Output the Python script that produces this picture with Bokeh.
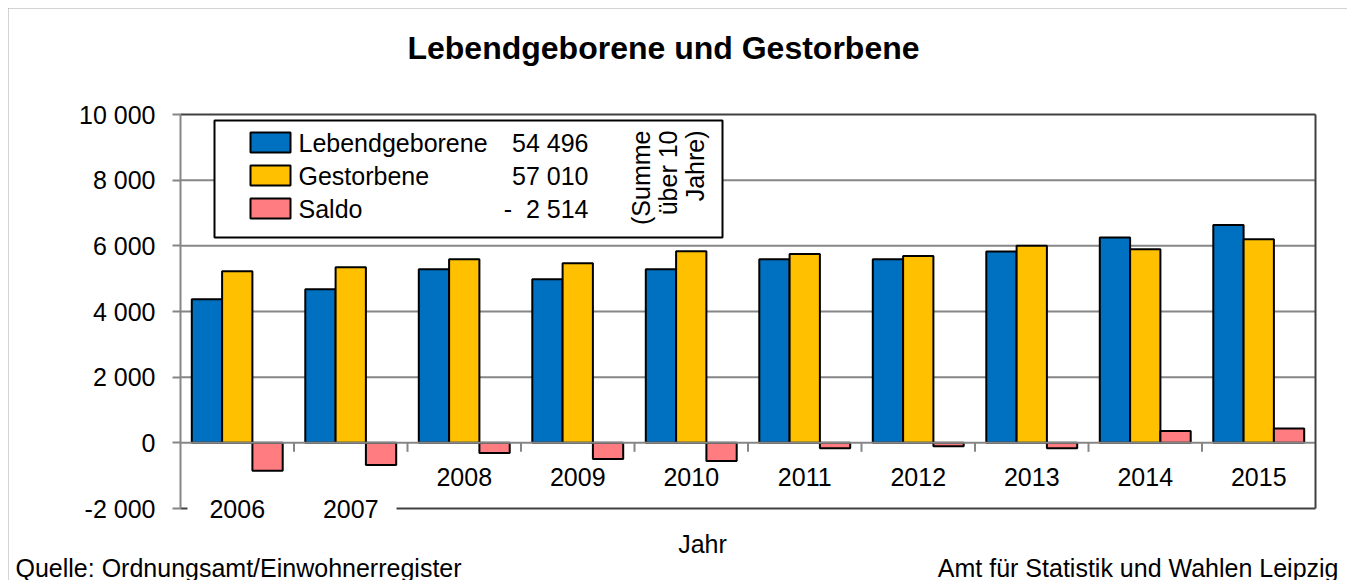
import math
from bokeh.plotting import figure
from bokeh.models import Range1d, FixedTicker, Label
from bokeh.core.properties import value
from bokeh.embed import file_html
from bokeh.resources import INLINE

# ---------------- data ----------------
YEARS = ["2006", "2007", "2008", "2009", "2010", "2011", "2012", "2013", "2014", "2015"]
LEBENDGEBORENE = [4372, 4676, 5284, 4980, 5284, 5588, 5588, 5831, 6257, 6636]
GESTORBENE = [5226, 5348, 5591, 5470, 5834, 5754, 5690, 5999, 5895, 6203]
SALDO = [-854, -672, -307, -490, -550, -166, -102, -168, 362, 433]
SERIES_NAMES = ["Lebendgeborene", "Gestorbene", "Saldo"]
Y_TICKS = [-2000, 0, 2000, 4000, 6000, 8000, 10000]
Y_TICK_LABELS = ["-2 000", "0", "2 000", "4 000", "6 000", "8 000", "10 000"]
LABEL_ROW = ["low", "low", "high", "high", "high", "high", "high", "high", "high", "high"]
TITLE = "Lebendgeborene und Gestorbene"
X_TITLE = "Jahr"
SOURCE = "Quelle: Ordnungsamt/Einwohnerregister"
PUBLISHER = "Amt für Statistik und Wahlen Leipzig"
LEGEND_NOTE = ["(Summe", "über 10", "Jahre)"]

# ---------------- style / layout ----------------
COLORS = ["#0070C0", "#FFC000", "#FF7C80"]
FONT = "Liberation Sans"
FS = "25px"
GRID = "#868686"
DARK = "#404040"
OFF = 8                      # page offset of the whole chart
W, H = 1339, 572
AREA_L, AREA_R, AREA_T, AREA_B = 180, 1315, 114, 508   # plot area in page px
Y_MIN, Y_MAX = Y_TICKS[0], Y_TICKS[-1]
N = len(YEARS)
BAR_W = 0.267
PX_X = N / (AREA_R - AREA_L)  # data units per pixel (x)


def fx(px):  # page pixel -> data x
    return (px - AREA_L) * PX_X


def fy(py):  # page pixel -> data y
    return Y_MAX - (py - AREA_T) / (AREA_B - AREA_T) * (Y_MAX - Y_MIN)


def fmt(v):
    s = f"{abs(v):,}".replace(",", " ")
    return s if v >= 0 else "-\u00a0\u00a0" + s


def txt(x, y, s, align="left", size=FS, **kw):
    p.text(x=[x], y=[y], text=[s], text_align=align, text_baseline="middle",
           text_font=value(FONT), text_font_size=size, text_color="black", **kw)


p = figure(width=W, height=H,
           x_range=Range1d(fx(OFF), fx(OFF + W)),
           y_range=Range1d(fy(OFF + H), fy(OFF)),
           output_backend="svg", toolbar_location=None, x_axis_location=None,
           min_border_left=0, min_border_right=0, min_border_top=0,
           min_border_bottom=0, title=None)
p.styles = {"margin": f"{OFF}px 0 0 {OFF}px", "outline": "2px solid #a6a6a6",
            "outline-offset": "-2px"}
p.background_fill_color = "white"
p.border_fill_color = "white"
p.outline_line_color = None
p.xgrid.visible = False
p.ygrid.visible = False

ax = p.yaxis[0]
ax.fixed_location = 0
ax.bounds = (Y_MIN, Y_MAX)
ax.ticker = FixedTicker(ticks=Y_TICKS)
ax.major_label_overrides = {t: l for t, l in zip(Y_TICKS, Y_TICK_LABELS)}
ax.axis_line_color = GRID
ax.axis_line_width = 2
ax.major_tick_line_color = GRID
ax.major_tick_line_width = 2
ax.major_tick_out = 8
ax.major_tick_in = 0
ax.minor_tick_line_color = None
ax.major_label_standoff = 17
ax.major_label_text_font = FONT
ax.major_label_text_font_size = FS
ax.major_label_text_color = "black"

# gridlines
gl = [t for t in Y_TICKS if t not in (0, Y_MIN, Y_MAX)]
p.segment(x0=[0] * len(gl), x1=[N] * len(gl), y0=gl, y1=gl, line_color=GRID, line_width=2)

# legend box (drawn over the gridlines)
p.quad(left=[fx(214)], right=[fx(722)], top=[fy(120)], bottom=[fy(237)],
       fill_color="white", line_color="black", line_width=2)

# bars
centers = [i + 0.5 for i in range(N)]
for k, vals in enumerate([LEBENDGEBORENE, GESTORBENE, SALDO]):
    xs = [c + (k - 1) * BAR_W for c in centers]
    p.vbar(x=xs, top=vals, bottom=0, width=BAR_W, fill_color=COLORS[k],
           line_color="black", line_width=2)

# zero axis line and category ticks
tick_len = 9 / (AREA_B - AREA_T) * (Y_MAX - Y_MIN)
p.segment(x0=[0], x1=[N], y0=[0], y1=[0], line_color=GRID, line_width=2)
p.segment(x0=list(range(1, N)), x1=list(range(1, N)), y0=[0] * (N - 1),
          y1=[-tick_len] * (N - 1), line_color=GRID, line_width=2)

# plot-area border (top, right, bottom)
p.segment(x0=[0, N, 0], x1=[N, N, N], y0=[Y_MAX, Y_MIN, Y_MIN], y1=[Y_MAX, Y_MAX, Y_MIN],
          line_color=DARK, line_width=2)

# legend content
totals = [sum(LEBENDGEBORENE), sum(GESTORBENE), sum(SALDO)]
for k, name in enumerate(SERIES_NAMES):
    cy = 142 + 33 * k
    p.quad(left=[fx(250)], right=[fx(290)], top=[fy(cy - 10)], bottom=[fy(cy + 10)],
           fill_color=COLORS[k], line_color="black", line_width=2)
    txt(fx(298), fy(cy), name)
    txt(fx(588), fy(cy), fmt(totals[k]), align="right")
for j, line in enumerate(LEGEND_NOTE):
    txt(fx(640 + 27 * j), fy(130), line, align="right", angle=math.pi / 2)

# year labels (the two lower ones sit on a white box that hides the border)
for i, (yr, row) in enumerate(zip(YEARS, LABEL_ROW)):
    if row == "low":
        left, right = (22, 45) if i == 0 else (45, 18)
        pad = {"left": left, "right": right, "top": 4, "bottom": 4}
        p.add_layout(Label(x=centers[i] + (right - left) / 2 * PX_X, y=Y_MIN, text=yr,
                           text_align="center", text_baseline="middle", text_font=FONT,
                           text_font_size=FS, text_color="black",
                           background_fill_color="white", padding=pad))
    else:
        txt(centers[i], fy(476), yr, align="center")

# title, axis title, footers
txt(fx(663), fy(47), TITLE, align="center", size="32px", text_font_style="bold")
txt(fx(702), fy(543), X_TITLE, align="center")
txt(fx(15), fy(567), SOURCE)
txt(fx(1338), fy(567), PUBLISHER, align="right")

open("out.html", "w").write(file_html(p, INLINE))
